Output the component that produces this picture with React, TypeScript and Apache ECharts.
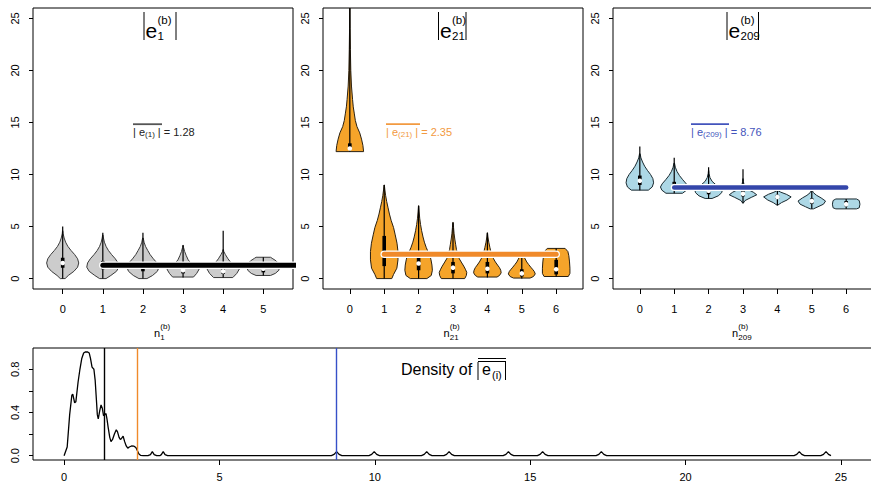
import React, { useEffect, useRef } from 'react';
import * as echarts from 'echarts';

const FONT = '"Liberation Sans", Arial, Helvetica, sans-serif';

// ---------- Panel 1 : |e_1^(b)| ----------
const p1Cats = [0, 1, 2, 3, 4, 5];
const p1Profiles = [
  [[0, 0.15], [0.3, 0.35], [0.7, 0.7], [1.1, 0.93], [1.5, 1.0], [1.9, 0.93], [2.3, 0.75], [2.7, 0.52], [3.1, 0.32], [3.5, 0.18], [3.9, 0.09], [4.3, 0.03], [4.6, 0.01]],
  [[0, 0.2], [0.3, 0.5], [0.7, 0.85], [1.1, 1.0], [1.5, 0.95], [1.9, 0.78], [2.3, 0.55], [2.7, 0.35], [3.1, 0.2], [3.5, 0.1], [3.9, 0.04], [4.2, 0.01]],
  [[0, 0.25], [0.3, 0.6], [0.7, 0.9], [1.1, 1.0], [1.5, 0.88], [1.9, 0.65], [2.3, 0.45], [2.7, 0.3], [3.1, 0.16], [3.5, 0.07], [3.9, 0.02]],
  [[0.15, 0.65], [0.5, 0.85], [0.9, 1.0], [1.2, 0.72], [1.5, 0.48], [1.8, 0.32], [2.2, 0.2], [2.6, 0.1], [3.0, 0.03], [3.2, 0.01]],
  [[0.1, 0.6], [0.5, 0.85], [0.9, 1.0], [1.2, 0.75], [1.5, 0.5], [1.9, 0.3], [2.3, 0.14], [2.6, 0.04], [2.8, 0.01]],
  [[0.3, 0.45], [0.5, 0.75], [0.8, 0.97], [1.1, 1.0], [1.4, 0.97], [1.7, 0.8], [1.95, 0.55], [2.05, 0.45]],
];
const p1Lo = [0, 0, 0, 0.1, 0.1, 0.3];
const p1Hi = [5.0, 4.4, 4.4, 3.2, 4.6, 2.05];
const p1Q1 = [1.05, 0.9, 0.7, 0.5, 0.45, 0.6];
const p1Q3 = [2.0, 1.7, 1.5, 1.0, 1.0, 1.5];
const p1Med = [1.5, 1.3, 1.2, 0.8, 0.7, 0.95];

// ---------- Panel 2 : |e_21^(b)| ----------
const p2Cats = [0, 1, 2, 3, 4, 5, 6];
const p2Profiles = [
  [[12.2, 1.0], [12.8, 0.95], [13.4, 0.85], [14.0, 0.72], [14.6, 0.52], [15.2, 0.4], [15.9, 0.32], [16.5, 0.25], [17.2, 0.2], [18.5, 0.12], [20, 0.07], [22, 0.04], [24, 0.02], [26, 0.01]],
  [[0, 0.55], [0.4, 0.68], [1.0, 0.92], [1.8, 1.0], [2.6, 1.0], [3.4, 0.93], [4.2, 0.8], [4.9, 0.68], [5.6, 0.5], [6.2, 0.38], [6.8, 0.28], [7.4, 0.18], [8.0, 0.1], [8.6, 0.04], [9.0, 0.01]],
  [[0, 0.6], [0.3, 0.92], [0.8, 1.0], [1.3, 0.97], [1.8, 0.9], [2.2, 0.83], [2.6, 0.68], [3.0, 0.55], [3.5, 0.42], [4.0, 0.32], [4.6, 0.22], [5.2, 0.14], [5.8, 0.08], [6.4, 0.04], [7.0, 0.01]],
  [[0, 0.85], [0.3, 0.97], [0.6, 1.0], [0.9, 0.9], [1.2, 0.78], [1.5, 0.64], [1.9, 0.46], [2.3, 0.35], [2.8, 0.25], [3.3, 0.19], [3.8, 0.13], [4.3, 0.08], [4.9, 0.04], [5.4, 0.01]],
  [[0.15, 0.7], [0.3, 0.88], [0.55, 1.0], [0.8, 0.97], [1.05, 0.88], [1.3, 0.74], [1.6, 0.58], [1.9, 0.45], [2.2, 0.35], [2.6, 0.25], [3.0, 0.18], [3.5, 0.1], [4.0, 0.04], [4.4, 0.01]],
  [[0.05, 0.6], [0.2, 0.85], [0.45, 0.98], [0.7, 0.9], [0.9, 0.78], [1.1, 0.65], [1.35, 0.5], [1.6, 0.36], [2.0, 0.2], [2.3, 0.1], [2.6, 0.01]],
  [[0.2, 0.88], [0.5, 1.0], [1.0, 1.0], [1.6, 0.97], [2.2, 0.92], [2.6, 0.85], [2.9, 0.65]],
];
const p2Lo = [12.2, 0, 0, 0, 0.1, 0, 0.2];
const p2Hi = [27, 9.0, 7.0, 5.4, 4.4, 2.6, 2.9];
const p2Q1 = [12.4, 1.2, 0.8, 0.5, 0.5, 0.2, 0.4];
const p2Q3 = [13.0, 4.1, 2.0, 1.6, 1.6, 0.9, 1.8];
const p2Med = [12.5, 2.4, 1.45, 1.05, 0.95, 0.5, 0.9];

// ---------- Panel 3 : |e_209^(b)| ----------
const p3Cats = [0, 1, 2, 3, 4, 5, 6];
const p3Profiles = [
  [[8.5, 0.62], [8.8, 0.9], [9.2, 1.0], [9.6, 0.95], [10.0, 0.78], [10.4, 0.55], [10.8, 0.35], [11.2, 0.2], [11.6, 0.08], [12.0, 0.02]],
  [[8.2, 0.6], [8.5, 0.9], [8.8, 1.0], [9.1, 0.88], [9.5, 0.62], [9.9, 0.38], [10.3, 0.2], [10.7, 0.08], [11.1, 0.02]],
  [[7.7, 0.25], [7.95, 0.7], [8.25, 0.95], [8.5, 1.0], [8.75, 0.85], [9.05, 0.5], [9.35, 0.25], [9.7, 0.1], [10.1, 0.03], [10.4, 0.01]],
  [[7.25, 0.02], [7.5, 0.15], [7.8, 0.6], [8.05, 1.0], [8.3, 0.75], [8.6, 0.3], [8.9, 0.1], [9.3, 0.03], [9.6, 0.01]],
  [[7.05, 0.02], [7.3, 0.3], [7.55, 0.7], [7.85, 1.0], [8.1, 0.65], [8.3, 0.25], [8.45, 0.03]],
  [[6.7, 0.12], [6.9, 0.45], [7.15, 0.85], [7.45, 1.0], [7.75, 0.68], [8.0, 0.35], [8.25, 0.12], [8.5, 0.02]],
  [[6.7, 0.75], [6.8, 0.95], [7.15, 1.0], [7.5, 0.95], [7.65, 0.75]],
];
const p3Lo = [8.5, 8.2, 7.7, 7.25, 7.05, 6.7, 6.7];
const p3Hi = [12.7, 11.6, 10.7, 10.5, 8.45, 8.5, 7.65];
const p3Q1 = [9.0, 8.6, 8.1, 7.9, 7.65, 7.2, 6.95];
const p3Q3 = [9.9, 9.3, 8.9, 8.4, 8.05, 7.7, 7.45];
const p3Med = [9.4, 8.9, 8.45, 8.15, 7.85, 7.45, 7.15];

// ---------- means ----------
const meanVals = [1.28, 2.35, 8.76];
const meanLabels = ['1.28', '2.35', '8.76'];
const meanSpan = [1, 6];
const obsIdx = ['1', '21', '209'];

// ---------- tick values ----------
const topYTicks = [0, 5, 10, 15, 20, 25];
const densXTicks = [0, 5, 10, 15, 20, 25];
const densYTicks = [0, 0.2, 0.4, 0.6, 0.8];
const densYLabels = [0, 0.4, 0.8];

// ---------- density of mean |e(i)| ----------
const densityMain = [
  [0, 0], [0.1, 0.08], [0.18, 0.38], [0.25, 0.56], [0.28, 0.57], [0.34, 0.49], [0.38, 0.5], [0.45, 0.68],
  [0.51, 0.8], [0.57, 0.9], [0.63, 0.95], [0.68, 0.96], [0.76, 0.96], [0.81, 0.95], [0.85, 0.9], [0.9, 0.82],
  [0.96, 0.8], [1.0, 0.7], [1.04, 0.52], [1.07, 0.38], [1.1, 0.34], [1.15, 0.42], [1.19, 0.47], [1.23, 0.44],
  [1.27, 0.37], [1.31, 0.38], [1.35, 0.39], [1.38, 0.34], [1.42, 0.26], [1.47, 0.17], [1.51, 0.13], [1.56, 0.15],
  [1.62, 0.2], [1.68, 0.24], [1.72, 0.22], [1.77, 0.17], [1.81, 0.15], [1.85, 0.16], [1.9, 0.18], [1.95, 0.13],
  [2.0, 0.09], [2.05, 0.07], [2.1, 0.08], [2.17, 0.09], [2.25, 0.088], [2.31, 0.075], [2.36, 0.045], [2.41, 0.015],
  [2.46, 0.003], [2.55, 0], [2.7, 0], [2.78, 0.01], [2.84, 0.037], [2.9, 0.01], [2.98, 0], [3.08, 0],
  [3.13, 0.01], [3.19, 0.037], [3.25, 0.01], [3.33, 0],
];
const densityTail = [
  [8.6, 0], [8.69, 0.012], [8.77, 0.037], [8.85, 0.012], [8.94, 0],
  [9.81, 0], [9.9, 0.012], [9.98, 0.037], [10.06, 0.012], [10.15, 0],
  [11.5, 0], [11.59, 0.012], [11.67, 0.037], [11.75, 0.012], [11.84, 0],
  [12.22, 0], [12.31, 0.012], [12.39, 0.037], [12.47, 0.012], [12.56, 0],
  [14.13, 0], [14.22, 0.012], [14.3, 0.037], [14.38, 0.012], [14.47, 0],
  [15.23, 0], [15.32, 0.012], [15.4, 0.037], [15.48, 0.012], [15.57, 0],
  [17.12, 0], [17.21, 0.012], [17.29, 0.037], [17.37, 0.012], [17.46, 0],
  [23.49, 0], [23.58, 0.012], [23.66, 0.037], [23.74, 0.012], [23.83, 0],
  [24.35, 0], [24.44, 0.012], [24.52, 0.037], [24.6, 0.012], [24.68, 0],
];

// ---------- styling ----------
const fills = ['#CCCCCC', '#F5A42A', '#ADD8E6'];
const strokes = ['#3a3a3a', '#2a2010', '#1a2a30'];
const lineColors = ['#000000', '#F08A2A', '#3446AA'];
const textColors = ['#222222', '#F29A40', '#4354BC'];
const barColors = ['#555555', '#F29A40', '#4354BC'];
const densLineColors = ['#000000', '#F08A2A', '#3650C8'];

const HALF = 0.4;

function violinSeries(idx: number, profiles: number[][][], lo: number[], hi: number[], q1: number[], q3: number[], med: number[]) {
  return {
    type: 'custom',
    xAxisIndex: idx,
    yAxisIndex: idx,
    clip: true,
    silent: true,
    data: profiles.map((_, i) => [i, med[i]]),
    renderItem: (params: any, api: any) => {
      const i = params.dataIndex;
      const prof = profiles[i];
      const pts: number[][] = [];
      for (let k = 0; k < prof.length; k++) pts.push(api.coord([i + prof[k][1] * HALF, prof[k][0]]));
      for (let k = prof.length - 1; k >= 0; k--) pts.push(api.coord([i - prof[k][1] * HALF, prof[k][0]]));
      const top = api.coord([i, hi[i]]);
      const bot = api.coord([i, lo[i]]);
      const b1 = api.coord([i, q1[i]]);
      const b3 = api.coord([i, q3[i]]);
      const m = api.coord([i, med[i]]);
      return {
        type: 'group',
        children: [
          { type: 'polygon', shape: { points: pts }, style: { fill: fills[idx], stroke: strokes[idx], lineWidth: 1 } },
          { type: 'line', shape: { x1: bot[0], y1: bot[1], x2: top[0], y2: top[1] }, style: { stroke: '#000', lineWidth: 1.2 } },
          { type: 'rect', shape: { x: b1[0] - 1.8, y: b3[1], width: 3.6, height: b1[1] - b3[1] }, style: { fill: '#000' } },
          { type: 'circle', shape: { cx: m[0], cy: m[1], r: 2.3 }, style: { fill: '#fff' } },
        ],
      };
    },
  };
}

function meanSeries(idx: number, width: number) {
  const data = meanSpan.map((x) => [x, meanVals[idx]]);
  const base = { type: 'line', xAxisIndex: idx, yAxisIndex: idx, data, symbol: 'none', clip: true, silent: true };
  return [
    { ...base, lineStyle: { color: '#ffffff', width: width + 2.5, cap: 'round' } },
    { ...base, lineStyle: { color: lineColors[idx], width, cap: 'round' } },
  ];
}

const txt = (x: number, y: number, text: string, size: number, fill = '#000', align = 'left') => ({
  type: 'text', x, y, silent: true,
  style: { text, fontSize: size, fontFamily: FONT, fill, align, verticalAlign: 'middle' },
});
const vline = (x: number, y1: number, y2: number, color = '#000', w = 1) => ({
  type: 'line', silent: true, shape: { x1: x, y1, x2: x, y2 }, style: { stroke: color, lineWidth: w },
});
const hline = (x1: number, x2: number, y: number, color = '#000', w = 1) => ({
  type: 'line', silent: true, shape: { x1, y1: y, x2, y2: y }, style: { stroke: color, lineWidth: w },
});

function absTitle(lb: number, rb: number, sub: string) {
  return [
    vline(lb, 12, 40),
    vline(rb, 12, 40),
    txt(lb + 1.5, 30, 'e', 21),
    txt(lb + 13.5, 20, '(b)', 11.5),
    txt(lb + 13.5, 36, sub, 11.5),
  ];
}

function nLabel(x0: number, sub: string) {
  return [
    txt(x0, 333, 'n', 11),
    txt(x0 + 6.3, 326.5, '(b)', 8),
    txt(x0 + 6.3, 337.5, sub, 8),
  ];
}

function annot(idx: number, x0: number, barW: number) {
  return [
    { type: 'rect', silent: true, shape: { x: x0, y: 123.3, width: barW, height: 1.8 }, style: { fill: barColors[idx] } },
    {
      type: 'text', x: x0, y: 131.5, silent: true,
      style: {
        text: `{t|| e}{s|(${obsIdx[idx]})}{t| |}{t| = ${meanLabels[idx]}}`,
        fill: textColors[idx], verticalAlign: 'middle', align: 'left',
        rich: {
          t: { fontSize: 11, fontFamily: FONT, fill: textColors[idx], lineHeight: 14, verticalAlign: 'middle' },
          s: { fontSize: 8, fontFamily: FONT, fill: textColors[idx], lineHeight: 9, verticalAlign: 'bottom' },
        },
      },
    },
  ];
}

const labelBase = { color: '#000', fontSize: 11, fontFamily: FONT };

function topAxes(idx: number, left: number, cats: number[]) {
  const n = cats.length;
  return {
    grid: { left, top: 8, width: 260, height: 281, show: true, borderColor: '#000', borderWidth: 1, containLabel: false, outerBoundsMode: 'none' },
    x: {
      gridIndex: idx, type: 'value', min: -0.5 - (n * 0.04), max: n - 0.5 + (n * 0.04),
      axisLine: { show: false, onZero: false }, splitLine: { show: false },
      axisTick: { show: true, length: 5, lineStyle: { color: '#000' }, customValues: cats },
      axisLabel: { ...labelBase, margin: 14, customValues: cats, formatter: (v: number) => String(v) },
    },
    y: {
      gridIndex: idx, type: 'value', min: -1, max: 26,
      axisLine: { show: false, onZero: false }, splitLine: { show: false },
      axisTick: { show: true, length: 4, lineStyle: { color: '#000' }, customValues: topYTicks },
      axisLabel: { ...labelBase, margin: 13, rotate: 90, customValues: topYTicks, formatter: (v: number) => String(v) },
    },
  };
}

export default function App() {
  const ref = useRef<HTMLDivElement>(null);
  useEffect(() => {
    if (!ref.current) return;
    const chart = echarts.init(ref.current, null, { renderer: 'svg' });
    const a0 = topAxes(0, 33, p1Cats);
    const a1 = topAxes(1, 323, p2Cats);
    const a2 = topAxes(2, 613, p3Cats);
    const option: any = {
      animation: false,
      backgroundColor: '#ffffff',
      grid: [
        a0.grid, a1.grid, a2.grid,
        { left: 33, top: 348, width: 839, height: 112, show: true, borderColor: '#000', borderWidth: 1, containLabel: false, outerBoundsMode: 'none' },
      ],
      xAxis: [
        a0.x, a1.x, a2.x,
        {
          gridIndex: 3, type: 'value', min: -1, max: 26,
          axisLine: { show: false, onZero: false }, splitLine: { show: false },
          axisTick: { show: true, length: 5, lineStyle: { color: '#000' }, customValues: densXTicks },
          axisLabel: { ...labelBase, margin: 11, customValues: densXTicks, formatter: (v: number) => String(v) },
        },
      ],
      yAxis: [
        a0.y, a1.y, a2.y,
        {
          gridIndex: 3, type: 'value', min: -0.04, max: 0.997,
          axisLine: { show: false, onZero: false }, splitLine: { show: false },
          axisTick: { show: true, length: 4, lineStyle: { color: '#000' }, customValues: densYTicks },
          axisLabel: { ...labelBase, margin: 13, rotate: 90, customValues: densYLabels, formatter: (v: number) => v.toFixed(1) },
        },
      ],
      series: [
        violinSeries(0, p1Profiles, p1Lo, p1Hi, p1Q1, p1Q3, p1Med),
        ...meanSeries(0, 5),
        violinSeries(1, p2Profiles, p2Lo, p2Hi, p2Q1, p2Q3, p2Med),
        ...meanSeries(1, 5),
        violinSeries(2, p3Profiles, p3Lo, p3Hi, p3Q1, p3Q3, p3Med),
        ...meanSeries(2, 4.5),
        {
          type: 'line', xAxisIndex: 3, yAxisIndex: 3, symbol: 'none', silent: true, clip: true,
          data: [...densityMain, ...densityTail],
          lineStyle: { color: '#000', width: 1.3 },
          markLine: {
            symbol: 'none', silent: true, label: { show: false },
            lineStyle: { type: 'solid', width: 1.4 },
            data: meanVals.map((v, i) => ({ xAxis: v, lineStyle: { color: densLineColors[i], type: 'solid', width: 1.4 } })),
          },
        },
      ],
      graphic: [
        ...absTitle(144, 176, obsIdx[0]),
        ...absTitle(438.5, 466, obsIdx[1]),
        ...absTitle(727, 758.5, obsIdx[2]),
        ...annot(0, 133, 29),
        ...annot(1, 386, 34),
        ...annot(2, 691, 38),
        ...nLabel(154, obsIdx[0]),
        ...nLabel(443.5, obsIdx[1]),
        ...nLabel(732, obsIdx[2]),
        txt(401, 369, 'Density of', 16),
        vline(478, 362, 380),
        vline(505.5, 362, 380),
        hline(478, 506, 358.5),
        hline(478, 506, 361.5),
        txt(482, 369.5, 'e', 16),
        txt(492, 375, '(i)', 11),
      ],
    };
    chart.setOption(option);
    return () => chart.dispose();
  }, []);
  return <div ref={ref} style={{ position: 'absolute', left: 0, top: 0, width: 871, height: 483 }} />;
}
